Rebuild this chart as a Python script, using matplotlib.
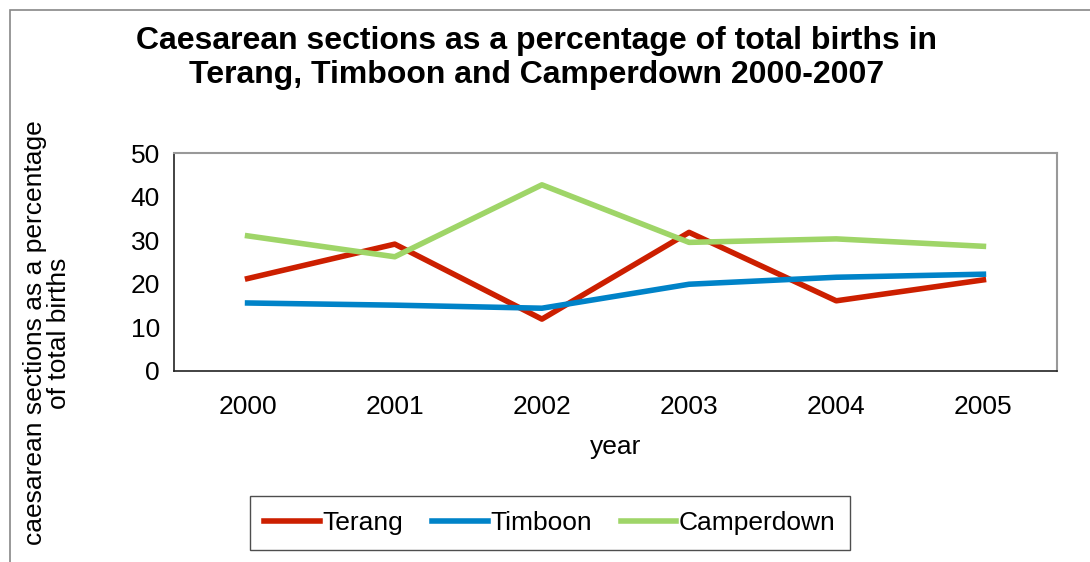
import matplotlib.pyplot as plt
from matplotlib.patches import Rectangle

plt.rcParams['font.family'] = ['Liberation Sans', 'DejaVu Sans']

years = ['2000', '2001', '2002', '2003', '2004', '2005']
terang = [21.2, 29.1, 11.9, 31.8, 16.1, 20.9]
timboon = [15.6, 15.1, 14.4, 19.9, 21.5, 22.2]
camperdown = [31.0, 26.2, 42.7, 29.5, 30.3, 28.6]

fig = plt.figure(figsize=(10.9, 5.62), dpi=100)
ax = fig.add_axes([174 / 1090, 1 - 371 / 562, 883 / 1090, 218 / 562])

x = range(len(years))
ax.plot(x, terang, color='#cc1f00', lw=4, label='Terang')
ax.plot(x, timboon, color='#0083c8', lw=4, label='Timboon')
ax.plot(x, camperdown, color='#9fd568', lw=4, label='Camperdown')

ax.set_xlim(-0.5, 5.5)
ax.set_ylim(0, 50)
ax.set_yticks(range(0, 51, 10))
ax.set_xticks(list(x))
ax.set_xticklabels(years)
ax.tick_params(length=0, labelsize=19, pad=10)
ax.tick_params(axis='x', pad=17)
for s in ['top', 'right']:
    ax.spines[s].set_color('#999999')
    ax.spines[s].set_linewidth(1.5)
for s in ['left', 'bottom']:
    ax.spines[s].set_color('#222222')
    ax.spines[s].set_linewidth(1.2)

ax.set_xlabel('year', fontsize=19, labelpad=12)
fig.text(47 / 1090, 1 - 333 / 562, 'caesarean sections as a percentage\nof total births',
         rotation=90, ha='center', va='center', fontsize=19, linespacing=1.0)

fig.text(537 / 1090, 1 - 58 / 562,
         'Caesarean sections as a percentage of total births in\nTerang, Timboon and Camperdown 2000-2007',
         ha='center', va='center', fontsize=23, fontweight='bold', linespacing=1.15)

leg = fig.legend(loc='center', bbox_to_anchor=(550 / 1090, 1 - 523 / 562), ncol=3,
                 fontsize=19, frameon=True, fancybox=False, shadow=False,
                 handlelength=2.1, handletextpad=0.1, columnspacing=1.1,
                 borderpad=0.55)
leg.get_frame().set_edgecolor('#222222')
leg.get_frame().set_linewidth(1.0)

fig.patches.append(Rectangle((10 / 1090, -0.1), 1.2, 1 - 10 / 562 + 0.1,
                             transform=fig.transFigure, fill=False,
                             edgecolor='#888888', lw=1.2))

fig.savefig('out.png', dpi=100)
